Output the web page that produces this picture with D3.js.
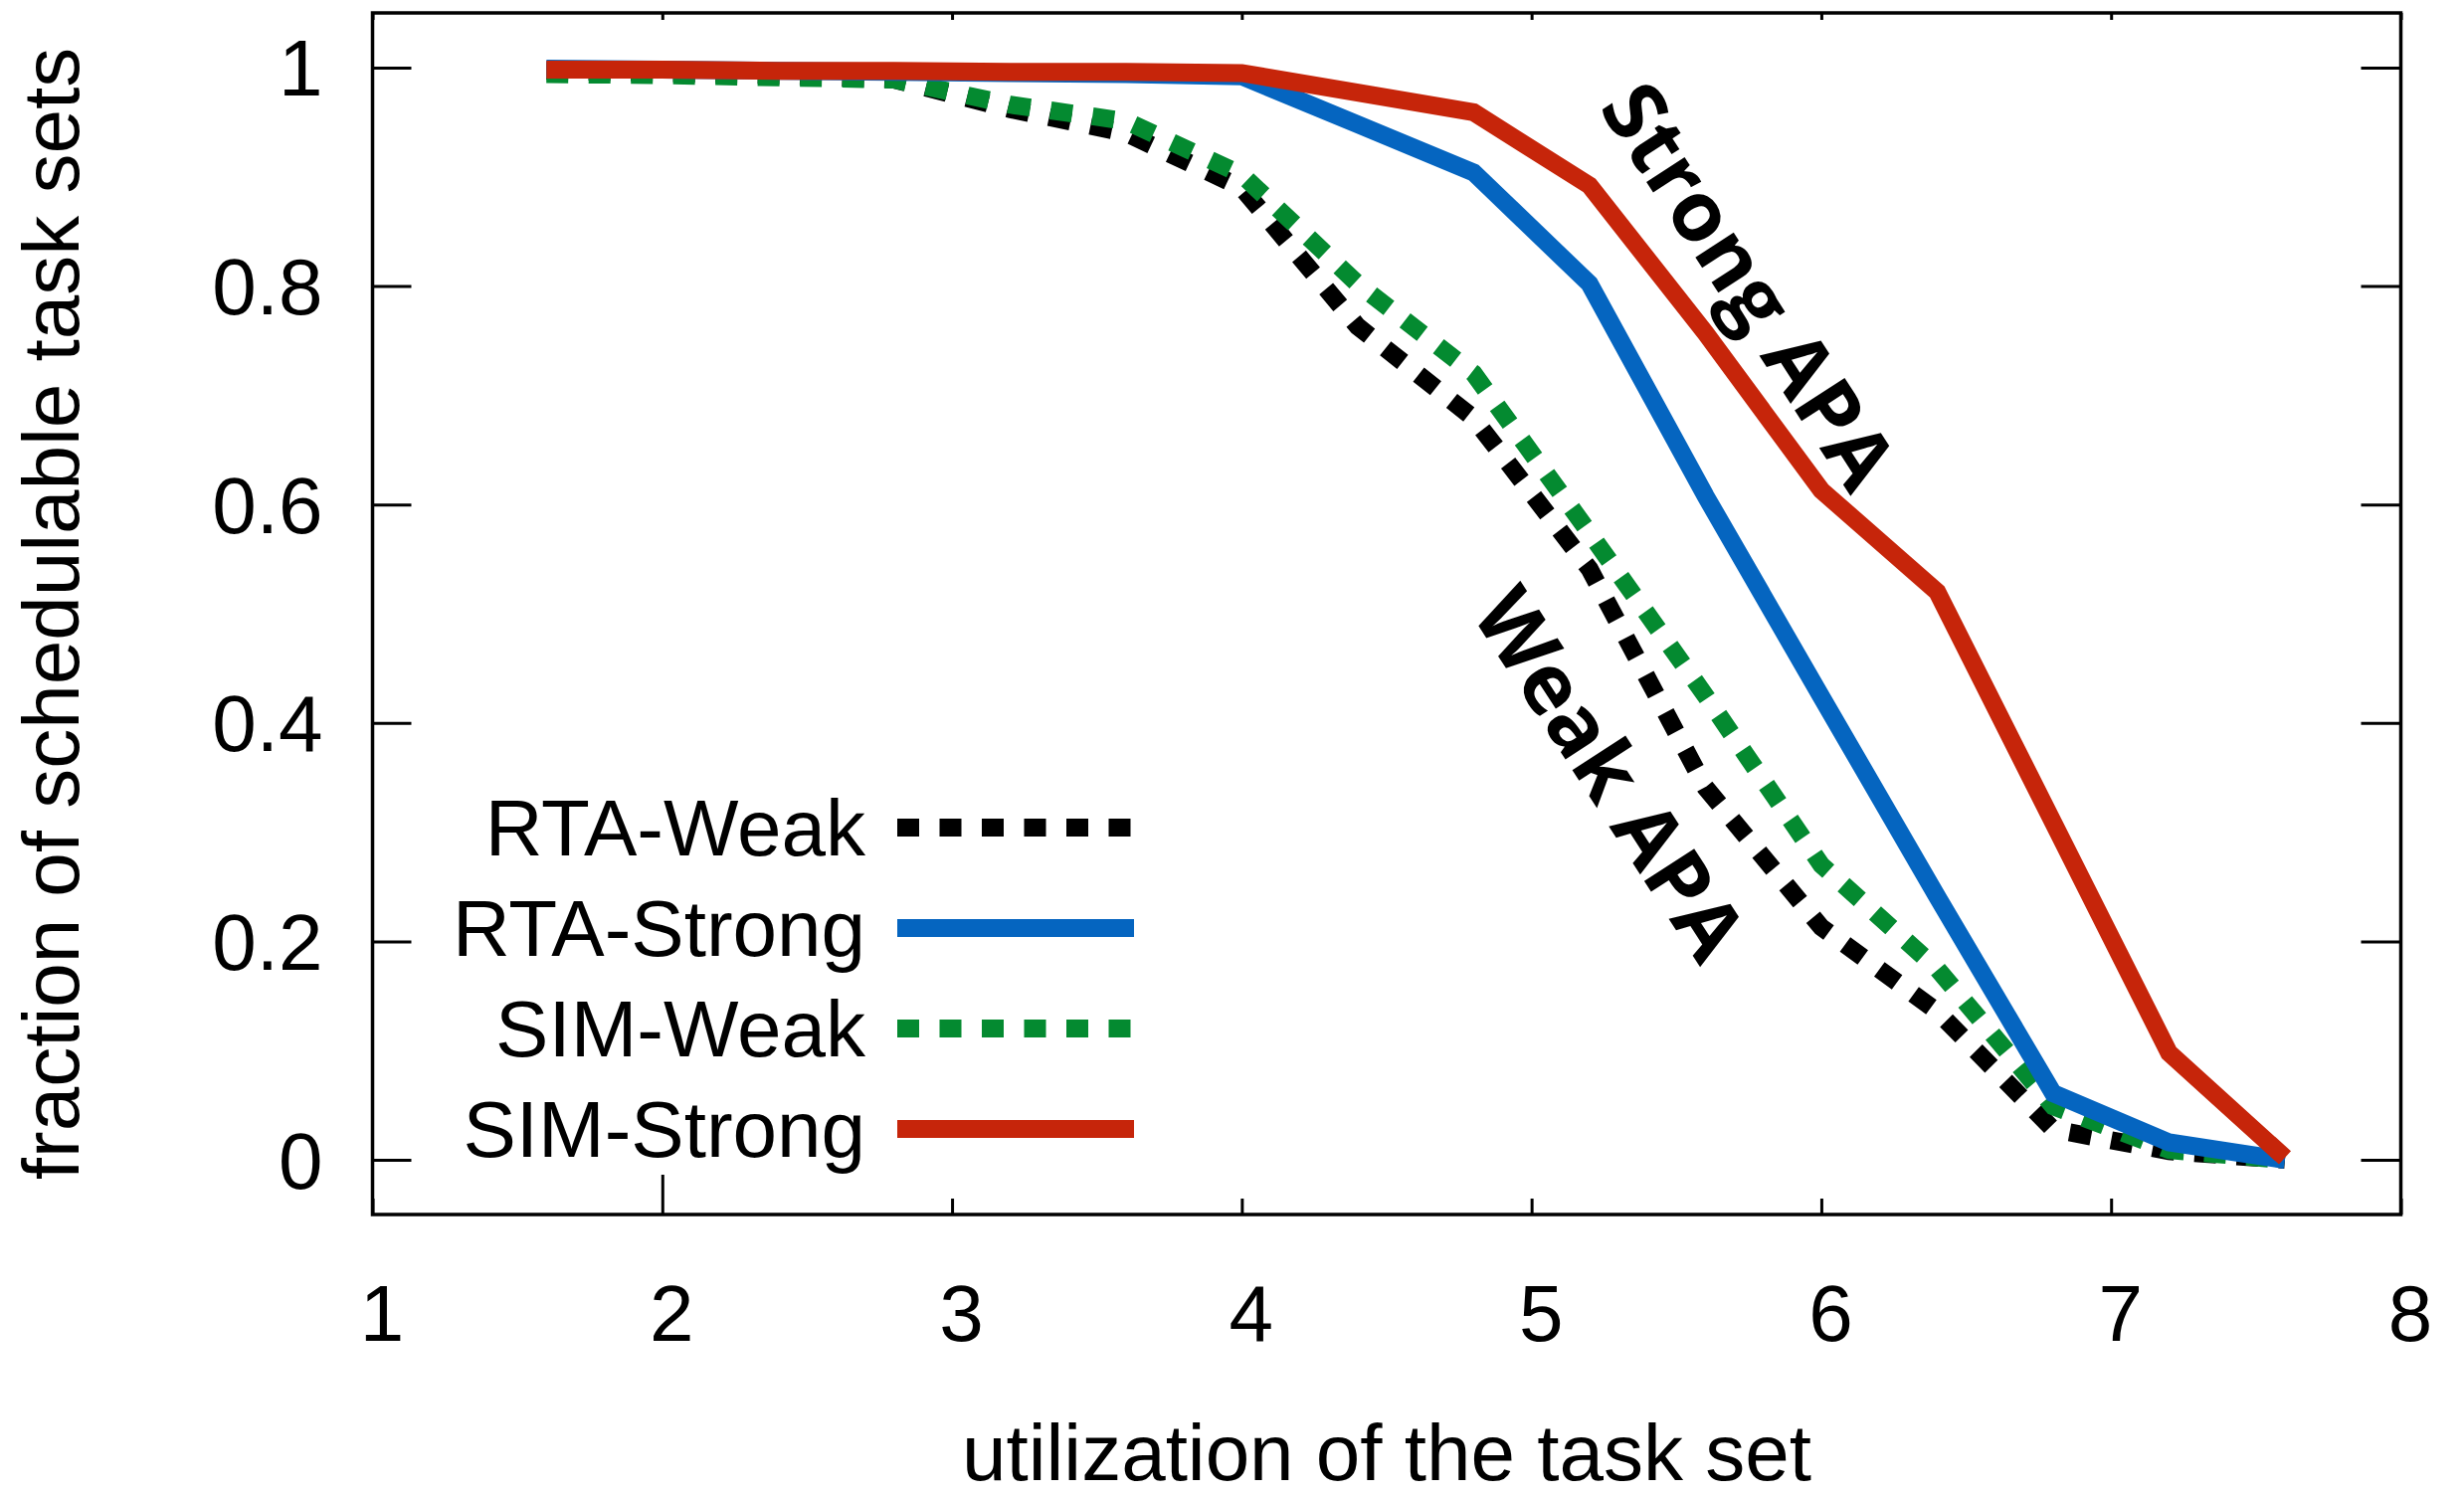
<!DOCTYPE html>
<html lang="en">
<head>
<meta charset="utf-8">
<title>Schedulable task sets</title>
<script src="https://cdn.jsdelivr.net/npm/d3@7"></script>
<style>
  body { margin: 0; background: #fff; }
  svg { display: block; }
  .axis text { font-family: "Liberation Sans", Arial, Helvetica, sans-serif; font-size: 80px; fill: #000; }
  .axis line { stroke: #000; stroke-width: 3px; }
  .axis path { display: none; }
  .frame { fill: none; stroke: #000; stroke-width: 3.5px; }
  .title, .legend text { font-family: "Liberation Sans", Arial, Helvetica, sans-serif; font-size: 80px; fill: #000; }
  .note { font-family: "Open Sans", sans-serif; font-weight: 700; font-size: 84px; fill: #000; }
  .series { fill: none; stroke-width: 18px; stroke-linejoin: miter; stroke-linecap: butt; }
</style>
</head>
<body>
<div id="chart"></div>
<script>
// data
var utilization = [1.6, 2.0, 2.4, 2.8, 3.2, 3.6, 4.0, 4.4, 4.8, 5.2, 5.6, 6.0, 6.4, 6.8, 7.2, 7.6];
var rtaWeak   = [0.997, 0.995, 0.993, 0.989, 0.962, 0.940, 0.890, 0.763, 0.679, 0.541, 0.341, 0.213, 0.136, 0.028, 0.008, 0.000];
var rtaStrong = [0.999, 0.998, 0.997, 0.996, 0.995, 0.994, 0.992, 0.948, 0.904, 0.802, 0.608, 0.424, 0.241, 0.061, 0.016, 0.000];
var simWeak   = [0.994, 0.993, 0.991, 0.989, 0.966, 0.951, 0.902, 0.802, 0.720, 0.574, 0.425, 0.270, 0.175, 0.049, 0.009, 0.000];
var simStrong = [0.998, 0.998, 0.997, 0.997, 0.996, 0.996, 0.995, 0.977, 0.959, 0.892, 0.757, 0.613, 0.520, 0.309, 0.098, 0.002];

var seriesNames = ["RTA-Weak", "RTA-Strong", "SIM-Weak", "SIM-Strong"];
var xTicks = [1, 2, 3, 4, 5, 6, 7, 8];
var yTicks = [0, 0.2, 0.4, 0.6, 0.8, 1];

var notes = [
  {text: "Strong APA", u: 5.75, f: 0.80},
  {text: "Weak APA", u: 5.27, f: 0.353}
];

// styles per series
var colors = {"RTA-Weak": "#000000", "RTA-Strong": "#0565c0", "SIM-Weak": "#048a30", "SIM-Strong": "#c6250a"};
var dashes = {"RTA-Weak": "22,20.5", "RTA-Strong": null, "SIM-Weak": "22,20.5", "SIM-Strong": null};

var W = 2477, H = 1504;
var margin = {top: 13, right: 63.5, bottom: 283, left: 374.5},
    width = W - margin.left - margin.right,
    height = H - margin.top - margin.bottom;

var svg = d3.select("#chart").append("svg")
    .attr("width", W)
    .attr("height", H);

var g = svg.append("g")
    .attr("transform", "translate(" + margin.left + "," + margin.top + ")");

var x = d3.scaleLinear().domain([1, 8]).range([0, width]);
var y = d3.scaleLinear().domain([-0.05, 1.05]).range([height, 0]);

var values = {"RTA-Weak": rtaWeak, "RTA-Strong": rtaStrong, "SIM-Weak": simWeak, "SIM-Strong": simStrong};
var series = seriesNames.map(function(n) {
  return {name: n, points: utilization.map(function(u, i) { return [u, values[n][i]]; })};
});

// axes: ticks point inward
g.append("g")
    .attr("class", "axis axis--y")
    .call(d3.axisLeft(y).tickValues(yTicks).tickFormat(d3.format("~g"))
      .tickSizeInner(-39).tickSizeOuter(0).tickPadding(50))
  .selectAll("text")
    .attr("dy", "0.35em");

g.append("g")
    .attr("class", "axis axis--y2")
    .attr("transform", "translate(" + width + ",0)")
    .call(d3.axisRight(y).tickValues(yTicks).tickFormat("")
      .tickSizeInner(-40).tickSizeOuter(0));

var xAxisG = g.append("g")
    .attr("class", "axis axis--x")
    .attr("transform", "translate(0," + height + ")")
    .call(d3.axisBottom(x).tickValues(xTicks).tickFormat(d3.format("d"))
      .tickSizeInner(-16).tickSizeOuter(0).tickPadding(70));
xAxisG.selectAll("text").attr("x", 9);
xAxisG.selectAll(".tick line").filter(function(d) { return d === 2; }).attr("y2", -40);

g.append("g")
    .attr("class", "axis axis--x2")
    .call(d3.axisTop(x).tickValues(xTicks).tickFormat("")
      .tickSizeInner(-7).tickSizeOuter(0));

// lines
var line = d3.line()
    .x(function(d) { return x(d[0]); })
    .y(function(d) { return y(d[1]); });

var order = ["RTA-Weak", "SIM-Weak", "RTA-Strong", "SIM-Strong"];
g.selectAll(".series")
    .data(order.map(function(n) { return series[seriesNames.indexOf(n)]; }))
  .enter().append("path")
    .attr("class", "series")
    .attr("d", function(d) { return line(d.points); })
    .style("stroke", function(d) { return colors[d.name]; })
    .style("stroke-dasharray", function(d) { return dashes[d.name]; });

// frame
g.append("rect")
    .attr("class", "frame")
    .attr("width", width)
    .attr("height", height);

// annotations
g.selectAll(".note")
    .data(notes)
  .enter().append("text")
    .attr("class", "note")
    .attr("text-anchor", "middle")
    .attr("dy", "0.35em")
    .attr("transform", function(d) { return "translate(" + x(d.u) + "," + y(d.f) + ") rotate(57)"; })
    .text(function(d) { return d.text; });

// legend
var legend = svg.append("g").attr("class", "legend");
var legendItem = legend.selectAll("g")
    .data(series)
  .enter().append("g")
    .attr("transform", function(d, i) { return "translate(0," + (832 + i * 101) + ")"; });

legendItem.append("text")
    .attr("x", 870)
    .attr("dy", "0.35em")
    .attr("text-anchor", "end")
    .text(function(d) { return d.name; });

legendItem.append("line")
    .attr("class", "series")
    .attr("x1", 902)
    .attr("x2", 1140)
    .style("stroke", function(d) { return colors[d.name]; })
    .style("stroke-dasharray", function(d) { return dashes[d.name]; });

// axis titles
svg.append("text")
    .attr("class", "title")
    .attr("text-anchor", "middle")
    .attr("x", margin.left + width / 2)
    .attr("y", 1488)
    .text("utilization of the task set");

svg.append("text")
    .attr("class", "title")
    .attr("text-anchor", "middle")
    .attr("transform", "translate(79," + (margin.top + height / 2) + ") rotate(-90)")
    .text("fraction of schedulable task sets");
</script>
</body>
</html>
